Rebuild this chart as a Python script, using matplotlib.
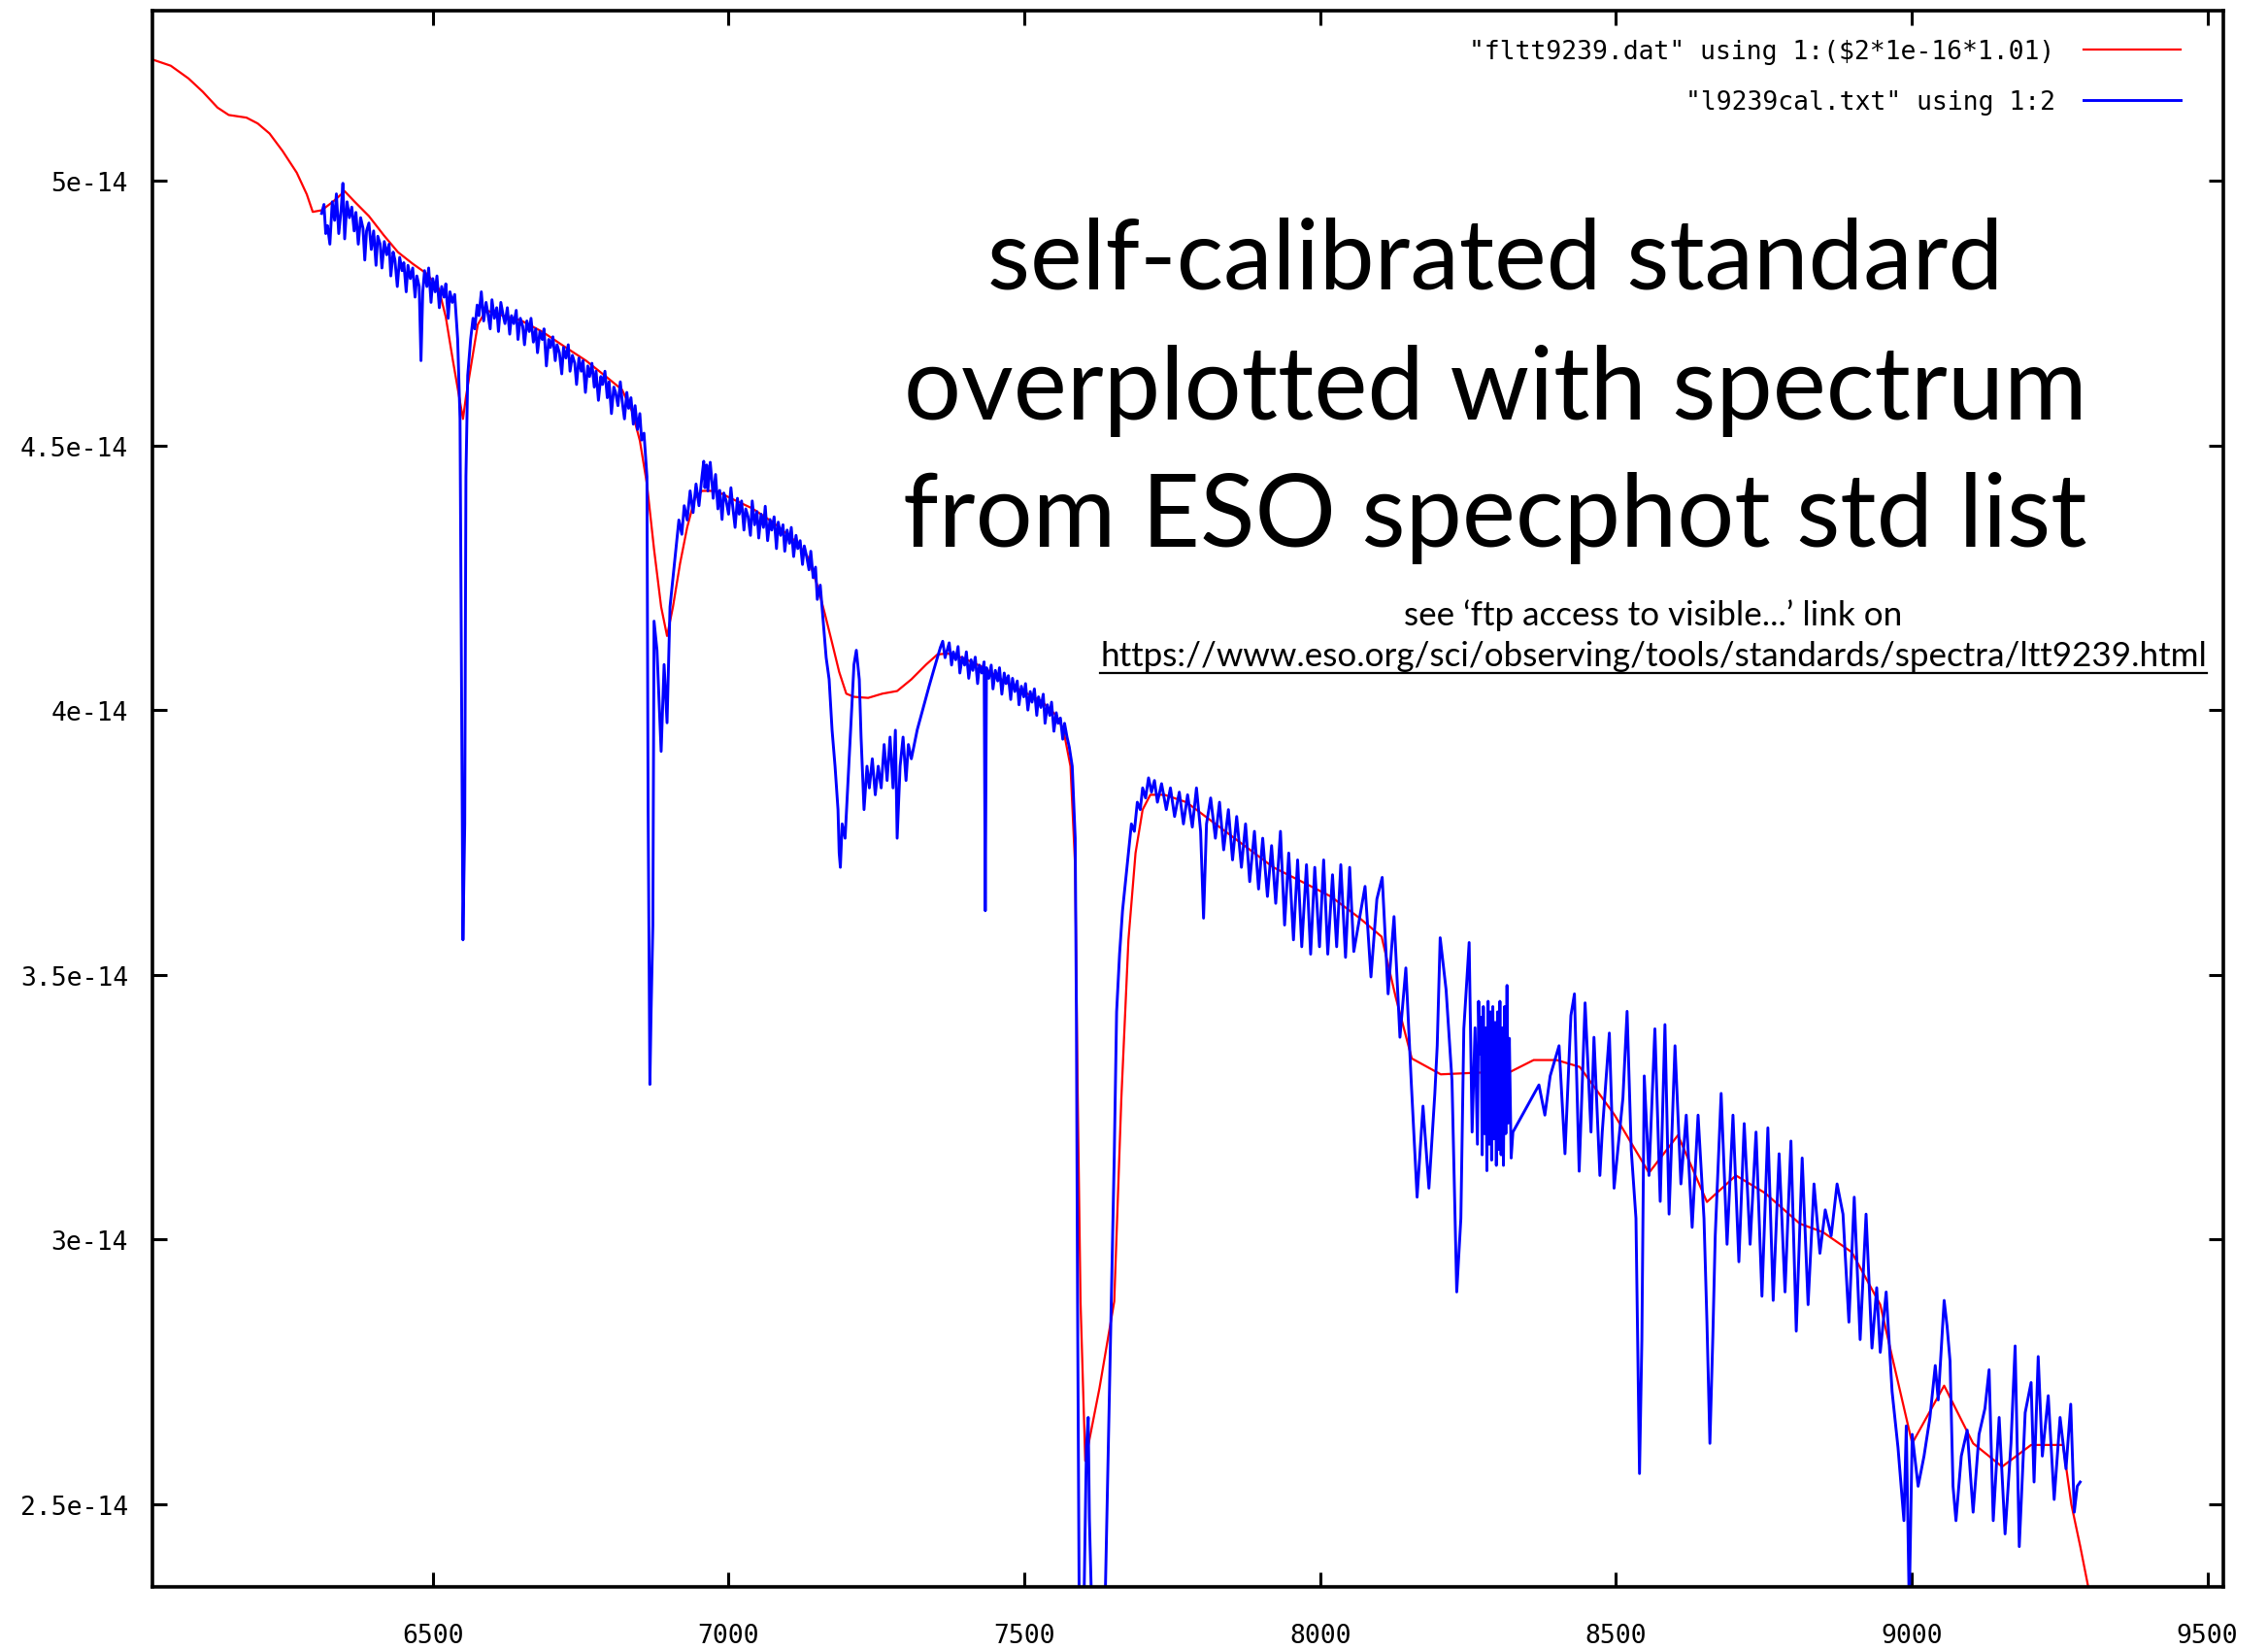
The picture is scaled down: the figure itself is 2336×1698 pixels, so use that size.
import matplotlib
matplotlib.use("Agg")
import matplotlib.pyplot as plt
from matplotlib.lines import Line2D
import numpy as np

# ---------------- data ----------------
red_wavelength = [6028, 6057, 6087, 6111, 6136, 6155, 6185, 6204, 6224, 6246, 6270, 6287, 6297,
                  6312, 6331, 6351, 6368, 6392, 6417, 6441, 6466, 6490, 6510, 6522, 6534, 6551,
                  6556, 6566, 6576, 6590, 6612, 6649, 6686, 6722, 6759, 6796, 6820, 6837, 6850,
                  6862, 6874, 6886, 6896, 6906, 6918, 6930, 6943, 6955, 6979, 7004, 7040, 7077,
                  7114, 7133, 7150, 7163, 7175, 7187, 7199, 7212, 7236, 7260, 7285, 7309, 7334,
                  7353, 7370, 7395, 7432, 7468, 7505, 7529, 7554, 7566, 7578, 7586, 7590, 7595,
                  7603, 7627, 7652, 7664, 7676, 7688, 7700, 7713, 7737, 7774, 7823, 7872, 7921,
                  7969, 8018, 8067, 8104, 8128, 8155, 8204, 8263, 8322, 8361, 8400, 8439, 8498,
                  8556, 8605, 8654, 8703, 8752, 8811, 8850, 8899, 8947, 8967, 9001, 9055, 9104,
                  9153, 9202, 9256, 9270, 9285, 9300, 9306]
red_flux = [5.228, 5.217, 5.193, 5.168, 5.138, 5.124, 5.119, 5.108, 5.089, 5.056, 5.015, 4.974, 4.941,
            4.944, 4.960, 4.980, 4.960, 4.933, 4.897, 4.865, 4.843, 4.824, 4.796, 4.742, 4.660, 4.550,
            4.591, 4.660, 4.728, 4.755, 4.747, 4.736, 4.714, 4.687, 4.660, 4.627, 4.605, 4.564, 4.509,
            4.427, 4.304, 4.195, 4.140, 4.195, 4.277, 4.345, 4.400, 4.414, 4.414, 4.400, 4.381, 4.353,
            4.318, 4.291, 4.236, 4.181, 4.127, 4.072, 4.031, 4.025, 4.023, 4.031, 4.036, 4.058, 4.086,
            4.105, 4.107, 4.099, 4.080, 4.053, 4.031, 4.017, 3.990, 3.963, 3.894, 3.703, 3.293, 2.883,
            2.582, 2.719, 2.883, 3.266, 3.566, 3.730, 3.812, 3.840, 3.840, 3.826, 3.785, 3.744, 3.703,
            3.676, 3.648, 3.607, 3.572, 3.457, 3.342, 3.312, 3.315, 3.317, 3.339, 3.339, 3.326, 3.235,
            3.126, 3.197, 3.071, 3.121, 3.088, 3.030, 3.014, 2.976, 2.877, 2.779, 2.615, 2.724, 2.615,
            2.571, 2.612, 2.612, 2.500, 2.421, 2.336, 2.290]

# blue spectrum, in pieces (wavelength in Angstrom, flux in units of 1e-14)
blue_wl_6300 = [6312, 6316, 6319, 6322, 6326, 6330, 6334, 6337,
                6341, 6345, 6348, 6351, 6355, 6359, 6363, 6367,
                6370, 6374, 6378, 6382, 6385, 6388, 6392, 6396,
                6400, 6404, 6407, 6411, 6414, 6418, 6422, 6426,
                6429, 6433, 6436, 6440, 6444, 6448, 6451, 6455,
                6458, 6462, 6466, 6470, 6473, 6477, 6480, 6483,
                6486, 6490, 6493, 6497, 6500, 6504, 6507, 6511,
                6515, 6519, 6522, 6526, 6529, 6533, 6537, 6542]
blue_fx_6300 = [4.938, 4.955, 4.900, 4.915, 4.880, 4.960, 4.925, 4.975,
                4.900, 4.945, 4.995, 4.890, 4.960, 4.930, 4.950, 4.905,
                4.940, 4.880, 4.930, 4.910, 4.850, 4.905, 4.920, 4.870,
                4.905, 4.840, 4.895, 4.880, 4.835, 4.885, 4.860, 4.880,
                4.820, 4.865, 4.850, 4.800, 4.855, 4.830, 4.845, 4.790,
                4.840, 4.815, 4.835, 4.780, 4.820, 4.800, 4.660, 4.790,
                4.830, 4.800, 4.835, 4.770, 4.815, 4.790, 4.820, 4.760,
                4.800, 4.780, 4.805, 4.740, 4.790, 4.770, 4.785, 4.701]

blue_wl_halpha = [6546, 6549, 6551, 6554, 6556]
blue_fx_halpha = [4.550, 3.976, 3.566, 3.785, 4.441]

blue_wl_6600 = [6559, 6564, 6568, 6571, 6575, 6578, 6582, 6586,
                6590, 6593, 6597, 6600, 6604, 6608, 6611, 6615,
                6619, 6622, 6626, 6630, 6633, 6637, 6641, 6644,
                6648, 6652, 6655, 6659, 6663, 6666, 6670, 6674,
                6677, 6681, 6685, 6688, 6692, 6696, 6699, 6703,
                6707, 6710, 6714, 6718, 6721, 6725, 6729, 6732,
                6736, 6740, 6743, 6747, 6751, 6754, 6758, 6762,
                6765, 6769, 6773, 6776, 6780, 6784, 6787, 6791,
                6795, 6798, 6802, 6806, 6809, 6813, 6817, 6820,
                6824, 6828, 6831, 6835, 6839, 6842, 6846, 6850,
                6853, 6857]
blue_fx_6600 = [4.632, 4.701, 4.740, 4.720, 4.765, 4.745, 4.790, 4.735,
                4.770, 4.750, 4.720, 4.775, 4.740, 4.760, 4.715, 4.770,
                4.745, 4.730, 4.760, 4.710, 4.745, 4.730, 4.755, 4.700,
                4.740, 4.725, 4.690, 4.735, 4.715, 4.740, 4.695, 4.720,
                4.675, 4.715, 4.700, 4.720, 4.650, 4.700, 4.685, 4.705,
                4.660, 4.690, 4.675, 4.635, 4.685, 4.665, 4.690, 4.640,
                4.670, 4.655, 4.615, 4.665, 4.640, 4.660, 4.600, 4.650,
                4.630, 4.655, 4.610, 4.640, 4.585, 4.630, 4.615, 4.640,
                4.590, 4.620, 4.560, 4.610, 4.600, 4.575, 4.620, 4.585,
                4.550, 4.600, 4.570, 4.590, 4.540, 4.575, 4.530, 4.560,
                4.510, 4.523]

blue_wl_bband = [6862, 6864, 6867, 6869, 6872, 6874, 6879, 6881, 6886,
                 6891, 6896, 6901, 6906, 6911, 6916, 6921, 6925]
blue_fx_bband = [4.441, 3.812, 3.293, 3.429, 3.593, 4.168, 4.113, 4.058, 3.922,
                 4.086, 3.976, 4.195, 4.250, 4.304, 4.359, 4.332, 4.386]

blue_wl_7000 = [6930, 6935, 6940, 6945, 6950, 6955, 6958, 6960,
                6963, 6965, 6969, 6972, 6974, 6978, 6982, 6985,
                6989, 6992, 6996, 7000, 7004, 7007, 7011, 7015,
                7018, 7022, 7026, 7029, 7033, 7037, 7040, 7044,
                7048, 7051, 7055, 7059, 7062, 7066, 7070, 7073,
                7077, 7081, 7084, 7088, 7092, 7095, 7099, 7103,
                7106, 7110, 7114, 7117, 7121, 7125, 7128, 7132,
                7136, 7139, 7143, 7147, 7150]
blue_fx_7000 = [4.359, 4.414, 4.373, 4.427, 4.386, 4.441, 4.470, 4.420,
                4.463, 4.414, 4.468, 4.430, 4.400, 4.445, 4.380, 4.415,
                4.360, 4.410, 4.395, 4.370, 4.420, 4.385, 4.345, 4.400,
                4.370, 4.395, 4.340, 4.380, 4.365, 4.330, 4.395, 4.350,
                4.375, 4.325, 4.370, 4.345, 4.385, 4.320, 4.360, 4.340,
                4.365, 4.305, 4.355, 4.330, 4.350, 4.300, 4.340, 4.315,
                4.345, 4.290, 4.330, 4.305, 4.320, 4.275, 4.310, 4.290,
                4.265, 4.300, 4.250, 4.270, 4.209]

blue_wl_7200 = [7155, 7160, 7165, 7170, 7175, 7180, 7185, 7187, 7189, 7192,
                7197, 7202, 7207, 7212, 7216, 7221, 7224, 7229, 7234, 7238,
                7243, 7248, 7253, 7258, 7263, 7268, 7273, 7278, 7282, 7285,
                7290, 7295, 7300, 7304, 7309, 7319, 7329, 7339, 7348]
blue_fx_7200 = [4.236, 4.168, 4.099, 4.058, 3.962, 3.894, 3.812, 3.730, 3.703, 3.785,
                3.758, 3.867, 3.976, 4.086, 4.113, 4.058, 3.949, 3.812, 3.894, 3.853,
                3.908, 3.840, 3.894, 3.853, 3.935, 3.867, 3.949, 3.853, 3.962, 3.758,
                3.894, 3.949, 3.867, 3.935, 3.908, 3.963, 4.004, 4.045, 4.080]

blue_wl_7400 = [7358, 7362, 7366, 7370, 7373, 7377, 7380, 7384,
                7388, 7391, 7395, 7399, 7402, 7406, 7410, 7413,
                7417, 7421, 7424, 7428, 7432, 7434, 7436, 7440,
                7444, 7447, 7451, 7455, 7458, 7462, 7466, 7469,
                7473, 7477, 7480, 7484, 7488, 7491, 7495, 7499,
                7502, 7506, 7510, 7513, 7517, 7521, 7524, 7528,
                7532, 7535, 7539, 7543, 7546, 7550, 7554, 7557,
                7561, 7565, 7568, 7572, 7576, 7581]
blue_fx_7400 = [4.118, 4.130, 4.099, 4.115, 4.127, 4.085, 4.110, 4.095,
                4.120, 4.070, 4.100, 4.085, 4.110, 4.060, 4.095, 4.075,
                4.100, 4.050, 4.085, 4.070, 4.091, 3.621, 4.080, 4.060,
                4.085, 4.040, 4.075, 4.055, 4.080, 4.030, 4.070, 4.050,
                4.065, 4.020, 4.060, 4.035, 4.055, 4.010, 4.045, 4.025,
                4.050, 4.000, 4.035, 4.015, 4.040, 3.990, 4.025, 4.005,
                4.030, 3.975, 4.010, 3.990, 4.015, 3.960, 3.995, 3.975,
                3.985, 3.945, 3.975, 3.950, 3.930, 3.894]

blue_wl_aband = [7586, 7588, 7590, 7593, 7600, 7605, 7608, 7610, 7615, 7627, 7637, 7642,
                 7647, 7652, 7656, 7661, 7666, 7671, 7676, 7681, 7686, 7691, 7696]
blue_fx_aband = [3.758, 3.429, 2.883, 2.254, 2.254, 2.609, 2.664, 2.473, 2.254, 2.254, 2.336, 2.609,
                 2.883, 3.156, 3.430, 3.539, 3.621, 3.676, 3.730, 3.785, 3.771, 3.826, 3.812]

blue_wl_7800 = [7700, 7705, 7710, 7715, 7720, 7725,
                7732, 7740, 7747, 7754, 7762, 7769, 7776, 7784, 7791, 7798,
                7803, 7808, 7815, 7823, 7830, 7837, 7845, 7852, 7859, 7867,
                7874, 7881, 7889, 7896, 7903, 7911, 7918, 7925, 7933, 7940,
                7947, 7955, 7962, 7969, 7977, 7984, 7991, 7999, 8006, 8013,
                8021, 8028, 8035, 8043, 8050, 8057]
blue_fx_7800 = [3.853, 3.834, 3.872, 3.845, 3.867, 3.826,
                3.861, 3.812, 3.853, 3.799, 3.845, 3.785, 3.840, 3.779, 3.853, 3.771,
                3.607, 3.785, 3.834, 3.758, 3.826, 3.736, 3.812, 3.717, 3.799, 3.703,
                3.785, 3.676, 3.771, 3.662, 3.758, 3.648, 3.744, 3.635, 3.771, 3.594,
                3.730, 3.566, 3.717, 3.553, 3.708, 3.539, 3.703, 3.553, 3.717, 3.539,
                3.689, 3.553, 3.708, 3.533, 3.703, 3.544]

blue_wl_8200 = [8076, 8086, 8096, 8105, 8115, 8125, 8135, 8145, 8154, 8164,
                8174, 8184, 8194, 8198, 8203, 8213,
                8223, 8231, 8238, 8243, 8252, 8257, 8262, 8266, 8268, 8270,
                8272, 8274, 8276, 8278, 8280, 8282, 8284, 8286, 8288, 8290, 8292, 8294, 8296, 8298, 8300,
                8302, 8304, 8306, 8308, 8310, 8312, 8314, 8316, 8318, 8320, 8323, 8326]
blue_fx_8200 = [3.667, 3.496, 3.643, 3.684, 3.464, 3.610, 3.382, 3.513, 3.300, 3.080,
                3.252, 3.097, 3.276, 3.366, 3.570, 3.472,
                3.300, 2.901, 3.040, 3.398, 3.561, 3.203, 3.400, 3.180, 3.450, 3.350,
                3.420, 3.160, 3.440, 3.200, 3.400, 3.130, 3.450, 3.180, 3.430, 3.150, 3.440, 3.190, 3.410, 3.140, 3.430,
                3.170, 3.450, 3.160, 3.400, 3.140, 3.440, 3.200, 3.480, 3.220, 3.380, 3.154, 3.203]

blue_wl_8700 = [8370, 8380, 8389, 8404, 8414, 8424, 8430, 8438, 8448, 8458,
                8463, 8473, 8477, 8489, 8497, 8512, 8519, 8526, 8534, 8540, 8544, 8548, 8556, 8566, 8575, 8583,
                8590, 8600, 8610, 8619, 8629, 8639, 8649, 8654, 8659, 8664, 8668, 8678, 8688, 8698, 8708, 8717,
                8727, 8737, 8747, 8757, 8766, 8776, 8786, 8796, 8805, 8815, 8825, 8835, 8845, 8854, 8864, 8874,
                8884, 8894, 8903, 8913, 8923, 8933, 8941, 8947, 8957, 8967, 8977, 8987, 8991, 8996, 9001, 9011,
                9021, 9031, 9040, 9045, 9055, 9060, 9065, 9070, 9075, 9084, 9094, 9104, 9114, 9124, 9131, 9138,
                9148, 9158, 9168, 9175, 9182, 9192, 9202, 9207, 9214, 9221, 9231, 9241, 9251, 9261, 9269, 9275,
                9280, 9285]
blue_fx_8700 = [3.292, 3.235, 3.309, 3.366, 3.162, 3.423, 3.464, 3.129, 3.447, 3.203,
                3.382, 3.121, 3.203, 3.390, 3.097, 3.268, 3.431, 3.170, 3.040, 2.558, 2.811, 3.309, 3.121, 3.398, 3.072, 3.406,
                3.048, 3.366, 3.105, 3.235, 3.023, 3.235, 3.040, 2.844, 2.615, 2.819, 3.007, 3.276, 2.991, 3.235, 2.958, 3.219,
                2.991, 3.203, 2.893, 3.211, 2.885, 3.162, 2.901, 3.186, 2.827, 3.154, 2.877, 3.105, 2.974, 3.056, 3.007, 3.105,
                3.048, 2.844, 3.080, 2.811, 3.048, 2.795, 2.909, 2.787, 2.901, 2.713, 2.607, 2.469, 2.648, 2.306, 2.632, 2.534,
                2.591, 2.664, 2.762, 2.697, 2.885, 2.836, 2.770, 2.534, 2.469, 2.591, 2.640, 2.485, 2.632, 2.681, 2.754, 2.469,
                2.664, 2.444, 2.615, 2.799, 2.420, 2.673, 2.730, 2.542, 2.779, 2.591, 2.705, 2.509, 2.664, 2.567, 2.689, 2.485,
                2.534, 2.542]

blue_wavelength = (blue_wl_6300 + blue_wl_halpha + blue_wl_6600 + blue_wl_bband + blue_wl_7000
                   + blue_wl_7200 + blue_wl_7400 + blue_wl_aband + blue_wl_7800 + blue_wl_8200
                   + blue_wl_8700)
blue_flux = (blue_fx_6300 + blue_fx_halpha + blue_fx_6600 + blue_fx_bband + blue_fx_7000
             + blue_fx_7200 + blue_fx_7400 + blue_fx_aband + blue_fx_7800 + blue_fx_8200
             + blue_fx_8700)
flux_unit = 1e-14

x_ticks = [6500, 7000, 7500, 8000, 8500, 9000, 9500]
y_ticks = [2.5e-14, 3e-14, 3.5e-14, 4e-14, 4.5e-14, 5e-14]
y_tick_labels = ["2.5e-14", "3e-14", "3.5e-14", "4e-14", "4.5e-14", "5e-14"]
x_range = (6026, 9527)
y_range = (2.344e-14, 5.321e-14)

red_label = '"fltt9239.dat" using 1:($2*1e-16*1.01)'
blue_label = '"l9239cal.txt" using 1:2'
title_lines = ["self-calibrated standard",
               "overplotted with spectrum",
               "from ESO specphot std list"]
note_text = "see \u2018ftp access to visible...\u2019 link on"
url_text = "https://www.eso.org/sci/observing/tools/standards/spectra/ltt9239.html"

# ---------------- figure ----------------
W, H = 2336, 1699
fig = plt.figure(figsize=(W / 100, H / 100), dpi=100, facecolor="white")
L, R, T, B = 157, 2290, 12, 1635
ax = fig.add_axes([L / W, 1 - B / H, (R - L) / W, (B - T) / H])

mono = "DejaVu Sans Mono"
ax.plot(red_wavelength, np.array(red_flux) * flux_unit, color="#ff0000", lw=1.6, label=red_label)
ax.plot(blue_wavelength, np.array(blue_flux) * flux_unit, color="#0000ff", lw=2.1, label=blue_label)

ax.set_xlim(*x_range)
ax.set_ylim(*y_range)
ax.set_xticks(x_ticks)
ax.set_xticklabels([str(v) for v in x_ticks], fontfamily=mono, fontsize=19)
ax.set_yticks(y_ticks)
ax.set_yticklabels(y_tick_labels, fontfamily=mono, fontsize=19)
ax.tick_params(direction="in", length=11, width=2.2, top=True, right=True, colors="black")
ax.tick_params(axis="x", pad=27)
ax.tick_params(axis="y", pad=18)
for sp in ax.spines.values():
    sp.set_linewidth(2.6)
    sp.set_color("black")

leg = ax.legend(loc="upper right", bbox_to_anchor=(2246 / W, 1 - 41 / H),
                bbox_transform=fig.transFigure, frameon=False, markerfirst=False,
                prop={"family": mono, "size": 19}, handlelength=3.8, handletextpad=1.1,
                labelspacing=0.98, borderpad=0, borderaxespad=0)

title_font = "Lato"
title_baselines = [298, 432, 563]
title_sizes = [73, 75, 75]
for line, yb, fs in zip(title_lines, title_baselines, title_sizes):
    fig.text(1540 / W, 1 - yb / H, line, ha="center", va="baseline",
             fontsize=fs, family=title_font, color="black")

fig.text(1703 / W, 1 - 644 / H, note_text, ha="center", va="baseline",
         fontsize=25.2, family=title_font, color="black")
url = fig.text(1703 / W, 1 - 686 / H, url_text, ha="center", va="baseline",
               fontsize=25.2, family=title_font, color="black")

fig.canvas.draw()
bb = url.get_window_extent(fig.canvas.get_renderer())
uy = (H - 694) / H
fig.add_artist(Line2D([bb.x0 / W, bb.x1 / W], [uy, uy], transform=fig.transFigure,
                      color="black", lw=1.6))

fig.savefig("out.png", dpi=100, facecolor="white")
